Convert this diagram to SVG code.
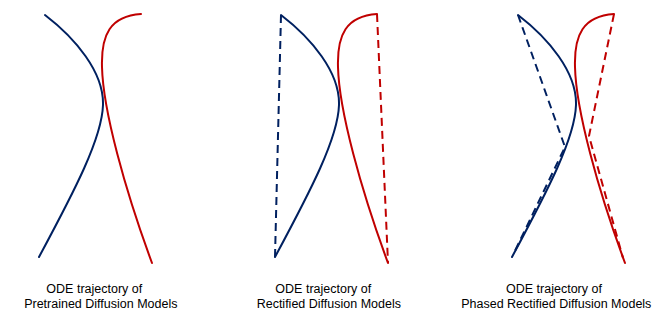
<svg xmlns="http://www.w3.org/2000/svg" width="664" height="324" viewBox="0 0 664 324">
<defs>
<style>
.b{fill:none;stroke:#002060;stroke-width:2;stroke-linecap:round;stroke-linejoin:round}
.r{fill:none;stroke:#C00000;stroke-width:2;stroke-linecap:round;stroke-linejoin:round}
.d{stroke-dasharray:8 5;stroke-linecap:butt}
.t{font-family:"Liberation Sans",Arial,sans-serif;font-size:12.5px;fill:#000;text-anchor:middle}
</style>
<path id="blueCurve" d="M45,15 C75,38 104,72 103,105 C102,138 75,190 39,257"/>
<path id="redCurve" d="M141,14 C110,16 101,35 102,67 C103,110 125,190 152,263"/>
</defs>
<g id="connectors">
<g id="panel1">
<use href="#blueCurve" class="b"/>
<use href="#redCurve" class="r"/>
</g>
<g id="panel2" transform="translate(236,0)">
<use href="#blueCurve" class="b"/>
<use href="#redCurve" class="r"/>
<path class="b d" d="M45,15 L39,257"/>
<path class="r d" d="M141,14 L152,263"/>
</g>
<g id="panel3" transform="translate(473,0)">
<use href="#blueCurve" class="b"/>
<use href="#redCurve" class="r"/>
<path class="b d" d="M45,15 L92,147 L40,255"/>
<path class="r d" d="M141,14 L116,136 L150,258"/>
</g>
</g>
<g id="label1">
<text class="t" x="94.3" y="293">ODE trajectory of</text>
<text class="t" x="100.8" y="308">Pretrained Diffusion Models</text>
</g>
<g id="label2">
<text class="t" x="323.3" y="293">ODE trajectory of</text>
<text class="t" x="328.8" y="308">Rectified Diffusion Models</text>
</g>
<g id="label3">
<text class="t" x="554" y="293">ODE trajectory of</text>
<text class="t" x="556.3" y="308">Phased Rectified Diffusion Models</text>
</g>
</svg>
